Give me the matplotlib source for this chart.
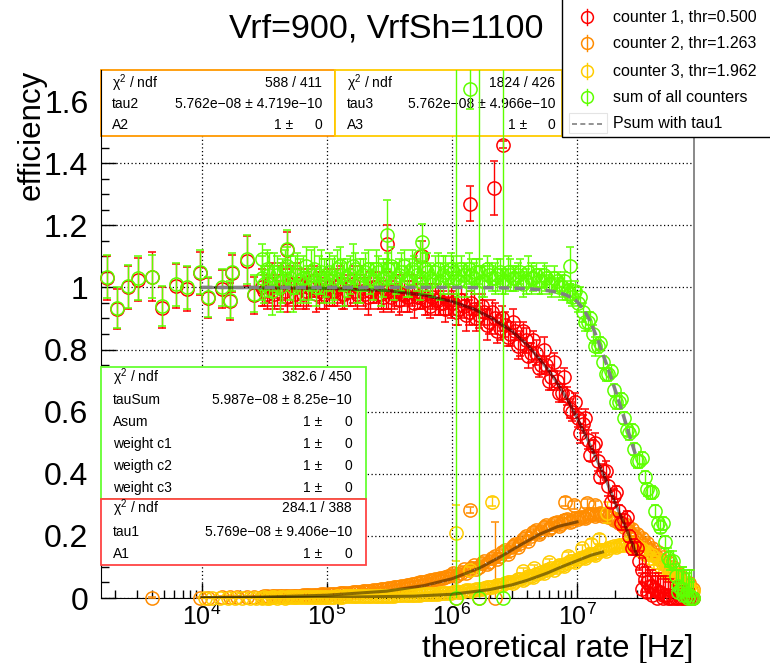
import matplotlib
matplotlib.use("Agg")
import matplotlib.pyplot as plt
from matplotlib.patches import Rectangle
from matplotlib.transforms import Affine2D
from matplotlib.ticker import FixedLocator, LogLocator, MultipleLocator, NullFormatter, FuncFormatter, LogFormatterSciNotation

plt.rcParams["font.family"] = ["Liberation Sans", "DejaVu Sans"]
plt.rcParams["mathtext.fontset"] = "custom"
plt.rcParams["mathtext.rm"] = "Liberation Sans"
plt.rcParams["mathtext.it"] = "Liberation Sans:italic"
plt.rcParams["mathtext.bf"] = "Liberation Sans:bold"

# ----------------------------------
# Data
# ----------------------------------

# rate points [Hz], two interleaved sets
rate = [
    3.0e4, 3.3e4, 3.6e4, 4.0e4, 4.4e4, 4.8e4, 5.3e4, 5.8e4, 6.4e4, 7.1e4, 7.8e4, 8.6e4, 9.4e4,
    1.04e5, 1.14e5, 1.26e5, 1.38e5, 1.52e5, 1.67e5, 1.84e5, 2.02e5, 2.22e5, 2.45e5, 2.69e5, 2.96e5,
    3.26e5, 3.58e5, 3.94e5, 4.33e5, 4.77e5, 5.25e5, 5.77e5, 6.35e5, 6.98e5, 7.68e5, 8.45e5, 9.3e5,
    1.02e6, 1.12e6, 1.24e6, 1.36e6, 1.5e6, 1.65e6, 1.81e6, 1.99e6, 2.19e6, 2.41e6, 2.65e6, 2.92e6,
    3.21e6, 3.53e6, 3.88e6, 4.27e6, 4.7e6, 5.17e6, 5.68e6, 6.25e6, 6.88e6, 7.56e6, 8.32e6, 9.15e6,
    1.01e7, 1.11e7, 1.22e7, 1.34e7, 1.47e7, 1.62e7, 1.78e7, 1.96e7, 2.15e7, 2.37e7, 2.61e7, 2.87e7,
    3.15e7, 3.47e7, 3.82e7, 4.2e7, 4.62e7, 5.08e7, 5.59e7, 6.15e7, 6.76e7, 7.44e7, 8.18e7,
]
rate_b = [
    3.15e4, 3.45e4, 3.8e4, 4.2e4, 4.6e4, 5.05e4, 5.55e4, 6.1e4, 6.75e4, 7.45e4, 8.2e4, 9.0e4, 9.9e4,
    1.09e5, 1.2e5, 1.32e5, 1.45e5, 1.6e5, 1.75e5, 1.93e5, 2.12e5, 2.33e5, 2.57e5, 2.82e5, 3.1e5,
    3.42e5, 3.76e5, 4.13e5, 4.55e5, 5.0e5, 5.5e5, 6.05e5, 6.66e5, 7.32e5, 8.05e5, 8.87e5, 9.74e5,
    1.07e6, 1.18e6, 1.3e6, 1.43e6, 1.57e6, 1.73e6, 1.9e6, 2.09e6, 2.3e6, 2.53e6, 2.78e6, 3.06e6,
    3.37e6, 3.7e6, 4.07e6, 4.48e6, 4.93e6, 5.42e6, 5.96e6, 6.56e6, 7.21e6, 7.93e6, 8.73e6, 9.6e6,
    1.06e7, 1.16e7, 1.28e7, 1.4e7, 1.54e7, 1.7e7, 1.87e7, 2.05e7, 2.26e7, 2.49e7, 2.74e7, 3.01e7,
    3.31e7, 3.64e7, 4.01e7, 4.41e7, 4.85e7, 5.33e7, 5.87e7, 6.45e7, 7.1e7, 7.8e7, 8.5e7,
]

# counter 1
eff_c1 = [
    1.00, 0.98, 1.01, 0.99, 1.02, 0.97, 1.00, 1.01, 0.98, 1.00, 1.02, 0.99, 0.98,
    1.00, 0.99, 1.01, 0.98, 1.00, 0.99, 1.01, 0.98, 0.99, 1.00, 0.98, 0.99,
    0.97, 0.99, 0.98, 0.97, 0.99, 0.97, 0.98, 0.96, 0.97, 0.96, 0.95, 0.96,
    0.95, 0.93, 0.94, 0.92, 0.93, 0.91, 0.92, 0.89, 0.90, 0.87, 0.88, 0.85,
    0.86, 0.82, 0.83, 0.79, 0.79, 0.75, 0.75, 0.71, 0.70, 0.66, 0.65, 0.60,
    0.58, 0.56, 0.51, 0.49, 0.44, 0.41, 0.36, 0.33, 0.28, 0.25, 0.20, 0.17,
    0.12, 0.06, 0.04, 0.03, 0.02, 0.01, 0.00, 0.00, 0.00, 0.00, 0.00,
]
err_c1 = [
    0.06, 0.05, 0.07, 0.05, 0.06, 0.05, 0.06, 0.07, 0.05, 0.06, 0.05, 0.06, 0.05,
    0.06, 0.05, 0.06, 0.05, 0.06, 0.05, 0.06, 0.05, 0.06, 0.05, 0.05, 0.06,
    0.05, 0.05, 0.06, 0.05, 0.05, 0.04, 0.05, 0.05, 0.04, 0.05, 0.04, 0.05,
    0.04, 0.05, 0.04, 0.04, 0.05, 0.04, 0.04, 0.04, 0.05, 0.04, 0.04, 0.04,
    0.03, 0.04, 0.04, 0.03, 0.04, 0.03, 0.03, 0.04, 0.03, 0.03, 0.03, 0.03,
    0.03, 0.03, 0.03, 0.02, 0.03, 0.02, 0.03, 0.02, 0.02, 0.02, 0.02, 0.02,
    0.03, 0.04, 0.05, 0.05, 0.05, 0.06, 0.06, 0.05, 0.04, 0.04, 0.03,
]
eff_c1_b = [
    0.99, 1.01, 0.98, 1.00, 0.99, 1.01, 0.98, 1.00, 0.99, 1.02, 0.98, 1.00, 0.99,
    0.99, 1.00, 0.98, 0.99, 1.01, 0.98, 0.99, 0.97, 1.00, 0.98, 0.97, 0.99,
    0.98, 0.96, 0.98, 0.97, 0.95, 0.97, 0.96, 0.94, 0.96, 0.95, 0.93, 0.95,
    0.92, 0.96, 0.91, 0.95, 0.90, 0.94, 0.88, 0.92, 0.86, 0.90, 0.84, 0.89,
    0.81, 0.86, 0.78, 0.83, 0.74, 0.80, 0.70, 0.76, 0.66, 0.71, 0.61, 0.63,
    0.53, 0.58, 0.46, 0.50, 0.39, 0.41, 0.31, 0.34, 0.24, 0.26, 0.16, 0.16,
    0.09, 0.05, 0.04, 0.02, 0.01, 0.01, 0.00, 0.00, 0.00, 0.00, 0.00,
]
err_c1_b = [
    0.05, 0.06, 0.05, 0.07, 0.05, 0.06, 0.05, 0.06, 0.06, 0.05, 0.06, 0.05, 0.06,
    0.05, 0.06, 0.05, 0.05, 0.06, 0.05, 0.05, 0.06, 0.05, 0.05, 0.05, 0.06,
    0.05, 0.05, 0.04, 0.05, 0.05, 0.04, 0.05, 0.04, 0.05, 0.04, 0.04, 0.05,
    0.04, 0.04, 0.05, 0.04, 0.04, 0.04, 0.05, 0.04, 0.04, 0.04, 0.03, 0.04,
    0.04, 0.03, 0.04, 0.03, 0.03, 0.04, 0.03, 0.03, 0.03, 0.03, 0.03, 0.03,
    0.03, 0.03, 0.02, 0.03, 0.02, 0.03, 0.02, 0.02, 0.02, 0.02, 0.02, 0.02,
    0.04, 0.05, 0.05, 0.06, 0.06, 0.05, 0.05, 0.04, 0.03, 0.03, 0.02,
]

# counter 2
eff_c2 = [
    0.004, 0.005, 0.005, 0.006, 0.006, 0.007, 0.007, 0.008, 0.009, 0.009, 0.010, 0.011, 0.012,
    0.012, 0.013, 0.015, 0.016, 0.017, 0.019, 0.020, 0.022, 0.024, 0.026, 0.028, 0.030,
    0.033, 0.035, 0.038, 0.041, 0.044, 0.047, 0.051, 0.054, 0.058, 0.062, 0.066, 0.070,
    0.080, 0.078, 0.094, 0.090, 0.105, 0.101, 0.118, 0.116, 0.134, 0.134, 0.154, 0.154,
    0.174, 0.176, 0.199, 0.199, 0.219, 0.217, 0.234, 0.230, 0.246, 0.241, 0.255, 0.249,
    0.255, 0.262, 0.266, 0.270, 0.270, 0.265, 0.260, 0.250, 0.240, 0.230, 0.215, 0.200,
    0.185, 0.170, 0.155, 0.140, 0.125, 0.110, 0.090, 0.075, 0.055, 0.040, 0.025,
]
err_c2 = [
    0.003, 0.004, 0.003, 0.004, 0.003, 0.004, 0.003, 0.004, 0.004, 0.003, 0.004, 0.004, 0.004,
    0.004, 0.005, 0.004, 0.005, 0.005, 0.005, 0.006, 0.005, 0.006, 0.006, 0.006, 0.007,
    0.006, 0.007, 0.007, 0.007, 0.008, 0.007, 0.008, 0.008, 0.008, 0.009, 0.009, 0.009,
    0.010, 0.009, 0.010, 0.011, 0.010, 0.011, 0.012, 0.011, 0.012, 0.012, 0.013, 0.012,
    0.013, 0.013, 0.014, 0.013, 0.014, 0.014, 0.015, 0.014, 0.015, 0.015, 0.016, 0.015,
    0.016, 0.015, 0.016, 0.016, 0.017, 0.016, 0.016, 0.015, 0.015, 0.015, 0.014, 0.014,
    0.013, 0.013, 0.012, 0.012, 0.011, 0.011, 0.010, 0.010, 0.009, 0.009, 0.008,
]
eff_c2_b = [
    0.005, 0.004, 0.006, 0.005, 0.007, 0.006, 0.008, 0.007, 0.009, 0.010, 0.010, 0.012, 0.011,
    0.014, 0.013, 0.016, 0.015, 0.018, 0.019, 0.022, 0.021, 0.025, 0.027, 0.029, 0.032,
    0.034, 0.037, 0.040, 0.043, 0.046, 0.050, 0.053, 0.057, 0.061, 0.065, 0.069, 0.074,
    0.070, 0.082, 0.082, 0.097, 0.094, 0.112, 0.108, 0.128, 0.124, 0.147, 0.142, 0.168,
    0.163, 0.190, 0.185, 0.212, 0.205, 0.228, 0.222, 0.240, 0.233, 0.252, 0.246, 0.258,
    0.262, 0.258, 0.272, 0.265, 0.275, 0.268, 0.262, 0.255, 0.245, 0.235, 0.222, 0.207,
    0.192, 0.178, 0.162, 0.147, 0.132, 0.117, 0.100, 0.082, 0.065, 0.048, 0.030,
]
err_c2_b = [
    0.004, 0.003, 0.004, 0.003, 0.004, 0.004, 0.003, 0.004, 0.003, 0.004, 0.004, 0.004, 0.005,
    0.005, 0.004, 0.005, 0.005, 0.006, 0.005, 0.006, 0.006, 0.006, 0.007, 0.006, 0.007,
    0.007, 0.008, 0.007, 0.008, 0.008, 0.008, 0.009, 0.008, 0.009, 0.009, 0.010, 0.009,
    0.010, 0.010, 0.011, 0.010, 0.011, 0.011, 0.012, 0.012, 0.012, 0.013, 0.012, 0.013,
    0.013, 0.014, 0.014, 0.014, 0.015, 0.014, 0.015, 0.015, 0.016, 0.016, 0.015, 0.016,
    0.016, 0.016, 0.017, 0.016, 0.016, 0.016, 0.015, 0.015, 0.015, 0.014, 0.014, 0.013,
    0.013, 0.013, 0.012, 0.012, 0.011, 0.011, 0.010, 0.010, 0.009, 0.009, 0.008,
]

# counter 3
eff_c3 = [
    0.001, 0.001, 0.002, 0.001, 0.002, 0.002, 0.002, 0.003, 0.002, 0.003, 0.003, 0.003, 0.004,
    0.004, 0.004, 0.004, 0.005, 0.005, 0.005, 0.006, 0.006, 0.006, 0.007, 0.007, 0.008,
    0.008, 0.009, 0.009, 0.010, 0.010, 0.011, 0.012, 0.012, 0.013, 0.014, 0.015, 0.016,
    0.018, 0.020, 0.022, 0.025, 0.027, 0.030, 0.033, 0.036, 0.040, 0.043, 0.047, 0.051,
    0.056, 0.061, 0.066, 0.071, 0.077, 0.083, 0.089, 0.095, 0.101, 0.107, 0.113, 0.119,
    0.125, 0.131, 0.137, 0.143, 0.149, 0.155, 0.161, 0.166, 0.170, 0.172, 0.170, 0.163,
    0.153, 0.142, 0.130, 0.117, 0.103, 0.088, 0.073, 0.058, 0.044, 0.030, 0.018,
]
err_c3 = [
    0.002, 0.002, 0.002, 0.002, 0.002, 0.002, 0.002, 0.002, 0.002, 0.002, 0.002, 0.002, 0.002,
    0.002, 0.003, 0.002, 0.003, 0.003, 0.003, 0.003, 0.003, 0.004, 0.003, 0.004, 0.004,
    0.004, 0.004, 0.005, 0.004, 0.005, 0.005, 0.005, 0.005, 0.006, 0.005, 0.006, 0.006,
    0.006, 0.007, 0.006, 0.007, 0.007, 0.007, 0.008, 0.007, 0.008, 0.008, 0.008, 0.009,
    0.008, 0.009, 0.009, 0.010, 0.009, 0.010, 0.010, 0.011, 0.010, 0.011, 0.011, 0.012,
    0.012, 0.012, 0.013, 0.012, 0.013, 0.013, 0.013, 0.012, 0.013, 0.012, 0.012, 0.012,
    0.011, 0.011, 0.011, 0.010, 0.010, 0.010, 0.009, 0.009, 0.008, 0.008, 0.007,
]
eff_c3_b = [
    0.002, 0.001, 0.002, 0.002, 0.001, 0.002, 0.003, 0.002, 0.003, 0.003, 0.004, 0.003, 0.004,
    0.004, 0.005, 0.004, 0.005, 0.006, 0.005, 0.006, 0.007, 0.006, 0.007, 0.008, 0.007,
    0.008, 0.009, 0.010, 0.009, 0.011, 0.011, 0.012, 0.013, 0.013, 0.015, 0.015, 0.017,
    0.021, 0.019, 0.025, 0.024, 0.030, 0.029, 0.036, 0.034, 0.043, 0.041, 0.051, 0.049,
    0.060, 0.058, 0.070, 0.068, 0.081, 0.079, 0.093, 0.091, 0.105, 0.103, 0.118, 0.116,
    0.130, 0.128, 0.142, 0.140, 0.153, 0.152, 0.164, 0.165, 0.172, 0.176, 0.174, 0.168,
    0.159, 0.149, 0.137, 0.124, 0.110, 0.096, 0.081, 0.065, 0.051, 0.037, 0.024,
]
err_c3_b = [
    0.002, 0.002, 0.002, 0.002, 0.002, 0.002, 0.002, 0.002, 0.002, 0.002, 0.002, 0.002, 0.002,
    0.003, 0.002, 0.003, 0.003, 0.003, 0.003, 0.004, 0.003, 0.004, 0.004, 0.004, 0.004,
    0.004, 0.005, 0.004, 0.005, 0.005, 0.005, 0.005, 0.006, 0.005, 0.006, 0.006, 0.006,
    0.007, 0.006, 0.007, 0.007, 0.007, 0.008, 0.007, 0.008, 0.008, 0.008, 0.009, 0.008,
    0.009, 0.009, 0.010, 0.009, 0.010, 0.010, 0.011, 0.010, 0.011, 0.011, 0.012, 0.011,
    0.012, 0.013, 0.012, 0.013, 0.013, 0.013, 0.012, 0.013, 0.012, 0.012, 0.012, 0.011,
    0.011, 0.011, 0.010, 0.010, 0.010, 0.009, 0.009, 0.008, 0.008, 0.007, 0.007,
]

# sum of all counters
eff_sum = [
    1.03, 1.06, 0.99, 1.04, 1.02, 1.07, 1.00, 1.05, 1.03, 1.01, 1.06, 1.04, 1.02,
    1.05, 1.03, 1.07, 1.01, 1.04, 1.06, 1.02, 1.05, 1.03, 1.06, 1.01, 1.04,
    1.07, 1.03, 1.05, 1.02, 1.06, 1.04, 1.03, 1.05, 1.02, 1.06, 1.04, 1.03,
    1.05, 1.02, 1.04, 1.06, 1.03, 1.05, 1.02, 1.04, 1.03, 1.05, 1.02, 1.04,
    1.03, 1.05, 1.02, 1.03, 1.04, 1.02, 1.03, 1.01, 1.02, 1.00, 0.99, 0.97,
    0.95, 0.92, 0.89, 0.85, 0.81, 0.76, 0.72, 0.67, 0.63, 0.58, 0.53, 0.48,
    0.44, 0.39, 0.34, 0.28, 0.23, 0.18, 0.12, 0.07, 0.03, 0.01, 0.00,
]
err_sum = [
    0.07, 0.06, 0.08, 0.06, 0.07, 0.06, 0.08, 0.06, 0.07, 0.06, 0.07, 0.06, 0.07,
    0.06, 0.07, 0.06, 0.07, 0.06, 0.05, 0.07, 0.06, 0.05, 0.06, 0.07, 0.05,
    0.06, 0.05, 0.06, 0.05, 0.06, 0.05, 0.05, 0.06, 0.05, 0.05, 0.06, 0.05,
    0.05, 0.05, 0.04, 0.05, 0.05, 0.04, 0.05, 0.04, 0.05, 0.04, 0.04, 0.05,
    0.04, 0.04, 0.04, 0.05, 0.04, 0.04, 0.04, 0.04, 0.03, 0.04, 0.03, 0.03,
    0.03, 0.03, 0.03, 0.03, 0.02, 0.02, 0.02, 0.02, 0.02, 0.02, 0.02, 0.02,
    0.02, 0.02, 0.02, 0.02, 0.02, 0.02, 0.03, 0.04, 0.06, 0.08, 0.09,
]
eff_sum_b = [
    1.01, 1.04, 1.05, 1.00, 1.06, 1.03, 1.04, 1.02, 1.07, 1.04, 1.00, 1.05, 1.03,
    1.02, 1.06, 1.04, 1.03, 1.07, 1.01, 1.04, 1.06, 1.02, 1.05, 1.03, 1.06,
    1.02, 1.04, 1.07, 1.03, 1.05, 1.02, 1.06, 1.03, 1.05, 1.02, 1.05, 1.06,
    1.03, 1.06, 1.02, 1.04, 1.05, 1.02, 1.06, 1.03, 1.04, 1.02, 1.05, 1.03,
    1.04, 1.01, 1.05, 1.03, 1.02, 1.04, 1.01, 1.03, 1.00, 1.02, 0.98, 0.99,
    0.97, 0.89, 0.90, 0.81, 0.82, 0.72, 0.73, 0.63, 0.64, 0.54, 0.54, 0.44,
    0.45, 0.35, 0.34, 0.24, 0.24, 0.13, 0.12, 0.04, 0.03, 0.01, 0.00,
]
err_sum_b = [
    0.06, 0.07, 0.06, 0.08, 0.06, 0.07, 0.06, 0.07, 0.06, 0.08, 0.06, 0.07, 0.06,
    0.07, 0.06, 0.05, 0.06, 0.07, 0.06, 0.05, 0.06, 0.06, 0.05, 0.06, 0.05,
    0.06, 0.05, 0.05, 0.06, 0.05, 0.06, 0.05, 0.05, 0.05, 0.06, 0.05, 0.05,
    0.05, 0.04, 0.05, 0.05, 0.04, 0.05, 0.04, 0.04, 0.05, 0.04, 0.05, 0.04,
    0.04, 0.04, 0.05, 0.04, 0.04, 0.04, 0.03, 0.04, 0.03, 0.03, 0.03, 0.03,
    0.03, 0.03, 0.02, 0.03, 0.02, 0.02, 0.02, 0.02, 0.02, 0.02, 0.02, 0.02,
    0.02, 0.02, 0.02, 0.02, 0.02, 0.03, 0.03, 0.05, 0.07, 0.08, 0.06,
]

# sparse low-rate points
rate_low = [1.74e3, 2.09e3, 2.56e3, 3.08e3, 3.98e3, 4.79e3, 6.2e3, 7.6e3, 9.6e3, 1.12e4, 1.45e4, 1.67e4, 1.74e4, 2.29e4, 2.6e4]
sum_low = [1.035, 0.935, 1.003, 1.03, 1.035, 0.94, 1.01, 1.0, 1.05, 0.97, 1.0, 0.96, 1.05, 1.09, 0.98]
sum_low_err = [0.07, 0.065, 0.07, 0.07, 0.07, 0.065, 0.07, 0.07, 0.07, 0.065, 0.06, 0.06, 0.06, 0.08, 0.06]
c1_low = [1.03, 0.93, 1.0, 1.025, 1.035, 0.935, 1.005, 0.995, 1.045, 0.965, 0.995, 0.955, 1.045, 1.085, 0.975]
c1_low_err = [0.07, 0.065, 0.07, 0.07, 0.08, 0.065, 0.07, 0.07, 0.07, 0.065, 0.06, 0.06, 0.06, 0.08, 0.06]

rate_c2_low = [3.98e3, 9.6e3, 1.12e4, 1.45e4, 1.67e4, 1.9e4, 2.29e4, 2.6e4]
c2_low = [0.0, 0.001, 0.001, 0.002, 0.002, 0.003, 0.003, 0.004]
c2_low_err = [0.003, 0.003, 0.003, 0.003, 0.003, 0.003, 0.003, 0.003]

rate_c3_low = [1.05e4, 1.2e4, 1.4e4, 1.6e4, 1.85e4, 2.1e4, 2.4e4, 2.7e4]
c3_low = [0.0, 0.0, 0.001, 0.0, 0.001, 0.001, 0.001, 0.001]
c3_low_err = [0.002, 0.002, 0.002, 0.002, 0.002, 0.002, 0.002, 0.002]

# outliers and extra points
rate_c1_x = [4.8e4, 3.0e5, 5.75e5, 1.39e6, 2.17e6, 2.56e6, 3.3e7, 3.65e7, 4.0e7, 4.4e7, 4.85e7, 5.3e7]
c1_x = [1.12, 1.14, 1.10, 1.27, 1.32, 1.46, 0.03, 0.02, 0.01, 0.0, 0.0, 0.0]
c1_x_err = [0.06, 0.06, 0.05, 0.055, 0.088, 0.01, 0.05, 0.06, 0.06, 0.07, 0.06, 0.05]

rate_c2_x = [1.08e6, 1.39e6, 1.64e6, 2.21e6, 8.0e6, 9.5e6, 1.2e7, 1.4e7]
c2_x = [0.0, 0.284, 0.0, 0.0, 0.31, 0.30, 0.305, 0.30]
c2_x_err = [0.01, 0.01, 0.01, 0.245, 0.015, 0.012, 0.015, 0.012]

rate_c3_x = [1.08e6, 1.39e6, 2.1e6, 3.7e6, 4.5e6, 6.0e6, 8.5e6, 1.1e7, 1.3e7, 1.5e7, 1.75e7]
c3_x = [0.21, 0.09, 0.31, 0.088, 0.095, 0.115, 0.135, 0.16, 0.175, 0.19, 0.275]
c3_x_err = [0.09, 0.01, 0.015, 0.01, 0.01, 0.012, 0.012, 0.012, 0.015, 0.015, 0.035]

rate_sum_x = [3.02e4, 4.8e4, 3.0e5, 5.5e5, 5.75e5, 1.39e6, 8.8e6, 1.08e6, 1.64e6, 2.56e6, 6.4e7, 7.0e7, 7.7e7, 8.4e7]
sum_x = [1.09, 1.125, 1.17, 1.10, 1.145, 1.64, 1.07, 0.0, 0.0, 0.0, 0.02, 0.01, 0.0, 0.0]
sum_x_err = [0.05, 0.06, 0.11, 0.05, 0.06, 0.065, 0.06, 3.0, 3.0, 3.0, 0.07, 0.09, 0.08, 0.05]

# fitted curves
fit1_rate = [1e4, 1e5, 3e5, 6e5, 1e6, 1.5e6, 2e6, 3e6, 4e6, 5e6, 6e6, 7e6, 8.5e6, 1e7, 1.25e7, 1.5e7, 1.75e7, 2e7, 2.5e7, 3e7]
fit1_eff = [1.0, 0.997, 0.99, 0.975, 0.955, 0.93, 0.905, 0.86, 0.815, 0.77, 0.73, 0.69, 0.635, 0.58, 0.5, 0.43, 0.37, 0.31, 0.22, 0.14]

fit2_rate = [1e4, 3e4, 1e5, 3e5, 6e5, 1e6, 1.67e6, 2.5e6, 3.5e6, 5e6, 7e6, 1e7]
fit2_eff = [0.001, 0.003, 0.009, 0.022, 0.04, 0.062, 0.097, 0.135, 0.17, 0.205, 0.23, 0.245]

fit3_rate = [1e4, 1e5, 5e5, 1e6, 2e6, 3e6, 4e6, 5.75e6, 7.5e6, 1e7, 1.3e7, 1.6e7]
fit3_eff = [0.0, 0.002, 0.006, 0.012, 0.027, 0.042, 0.057, 0.08, 0.1, 0.12, 0.138, 0.148]

psum_rate = [1e4, 1e5, 1e6, 2e6, 3e6, 4e6, 5e6, 6e6, 7e6, 8e6, 9e6, 1e7, 1.15e7, 1.3e7, 1.5e7, 1.75e7, 2e7, 2.3e7, 2.6e7, 3e7]
psum_eff = [1.0, 1.0, 1.0, 0.999, 0.998, 0.996, 0.993, 0.989, 0.984, 0.977, 0.968, 0.955, 0.925, 0.885, 0.82, 0.745, 0.675, 0.6, 0.53, 0.45]

# legend and fit boxes
legend_labels = ["counter 1, thr=0.500", "counter 2, thr=1.263", "counter 3, thr=1.962", "sum of all counters"]
box_tau2 = [("\u03c7$^{2}$ / ndf", "588 / 411", None), ("tau2", "5.762e\u221208 \u00b1 4.719e\u221210", None), ("A2", "1", "0")]
box_tau3 = [("\u03c7$^{2}$ / ndf", "1824 / 426", None), ("tau3", "5.762e\u221208 \u00b1 4.966e\u221210", None), ("A3", "1", "0")]
box_sum = [("\u03c7$^{2}$ / ndf", "382.6 / 450", None), ("tauSum", "5.987e\u221208 \u00b1 8.25e\u221210", None),
           ("Asum", "1", "0"), ("weight c1", "1", "0"), ("weigth c2", "1", "0"), ("weight c3", "1", "0")]
box_tau1 = [("\u03c7$^{2}$ / ndf", "284.1 / 388", None), ("tau1", "5.769e\u221208 \u00b1 9.406e\u221210", None), ("A1", "1", "0")]

RED = "#ff0000"
ORANGE = "#ff8c00"
YELLOW = "#ffcc00"
GREEN = "#5eff00"

# ----------------------------------
# Figure
# ----------------------------------

W, H = 770, 663
fig = plt.figure(figsize=(W / 100, H / 100), dpi=100)
ax = fig.add_axes([101 / W, 65 / H, 593 / W, 528 / H])

# pixel coords measured from top-left of the canvas
px = Affine2D().scale(1 / W, -1 / H).translate(0, 1) + fig.transFigure


def draw_points(x, y, err, color, z):
    c = ax.errorbar(x, y, yerr=err, fmt="o", mfc="none", mec=color, ecolor=color,
                    ms=9.5, mew=1.1, elinewidth=1.0, capsize=3, capthick=1.0, zorder=z)
    c.lines[0].set_clip_on(False)


draw_points(rate_c2_low + rate + rate_b + rate_c2_x, c2_low + eff_c2 + eff_c2_b + c2_x,
            c2_low_err + err_c2 + err_c2_b + c2_x_err, ORANGE, 3)
draw_points(rate_c3_low + rate + rate_b + rate_c3_x, c3_low + eff_c3 + eff_c3_b + c3_x,
            c3_low_err + err_c3 + err_c3_b + c3_x_err, YELLOW, 4)
draw_points(rate_low + rate + rate_b + rate_c1_x, c1_low + eff_c1 + eff_c1_b + c1_x,
            c1_low_err + err_c1 + err_c1_b + c1_x_err, RED, 5)
draw_points(rate_low + rate + rate_b + rate_sum_x, sum_low + eff_sum + eff_sum_b + sum_x,
            sum_low_err + err_sum + err_sum_b + sum_x_err, GREEN, 6)

ax.plot(fit2_rate, fit2_eff, color="black", alpha=0.45, lw=2.2, zorder=7)
ax.plot(fit3_rate, fit3_eff, color="black", alpha=0.45, lw=2.2, zorder=7)
ax.plot(fit1_rate, fit1_eff, color="black", alpha=0.45, lw=2.2, zorder=7)
ax.plot(psum_rate, psum_eff, color="#808080", lw=2.5, dashes=(3, 1.5), zorder=8)

ax.set_xscale("log")
ax.set_xlim(1556, 8.63e7)
ax.set_ylim(0, 1.7)

ax.xaxis.set_major_locator(FixedLocator([1e4, 1e5, 1e6, 1e7]))
ax.xaxis.set_major_formatter(LogFormatterSciNotation())
ax.xaxis.set_minor_locator(LogLocator(base=10, subs=range(2, 10)))
ax.xaxis.set_minor_formatter(NullFormatter())
ax.yaxis.set_major_locator(MultipleLocator(0.2))
ax.yaxis.set_minor_locator(MultipleLocator(0.05))
ax.yaxis.set_major_formatter(FuncFormatter(lambda v, p: f"{v:g}"))

ax.tick_params(which="both", direction="in", top=False, right=False, width=1)
ax.tick_params(which="major", length=11)
ax.tick_params(which="minor", length=6)
ax.tick_params(axis="y", pad=9, labelsize=23)
ax.tick_params(axis="x", pad=4, labelsize=18)

ax.set_axisbelow(True)
ax.grid(True, which="major", color="black", linestyle=(0, (1, 2)), lw=0.9)

ax.spines["top"].set_visible(False)
ax.spines["right"].set_color("#808080")
ax.spines["right"].set_linewidth(1.3)


# fit result boxes
def stat_box(x0, y0, x1, y1, edge, rows, ys, xl, xr, xpm, z):
    ax.add_patch(Rectangle((x0, y0), x1 - x0, y1 - y0, transform=px, facecolor="white",
                           edgecolor=edge, lw=1.3, clip_on=False, zorder=z))
    for (name, val, err), yy in zip(rows, ys):
        ax.text(xl, yy, name, transform=px, ha="left", va="center", fontsize=10, zorder=z, clip_on=False)
        if err is None:
            ax.text(xr, yy, val, transform=px, ha="right", va="center", fontsize=10, zorder=z, clip_on=False)
        else:
            ax.text(xpm, yy, val + " \u00b1", transform=px, ha="right", va="center", fontsize=10, zorder=z, clip_on=False)
            ax.text(xr, yy, err, transform=px, ha="right", va="center", fontsize=10, zorder=z, clip_on=False)


stat_box(101, 70, 335, 136, "#ff9900", box_tau2, [83, 104, 125], 112, 322, 293, 2)
stat_box(335, 70, 562, 136, YELLOW, box_tau3, [83, 104, 125], 347, 555, 527, 2)
stat_box(101, 367, 366, 499, "#66ff33", box_sum, [377, 400, 422, 444, 466, 488], 113, 352, 322, 10)
stat_box(101, 499, 366, 565, "#ff4444", box_tau1, [508, 532, 554], 113, 352, 322, 10)

# legend
ax.add_patch(Rectangle((562, -2), 212, 139, transform=px, facecolor="white", edgecolor="black",
                       lw=1.0, clip_on=False, zorder=20))
for label, color, yy in zip(legend_labels, [RED, ORANGE, YELLOW, GREEN], [17, 43, 71, 97]):
    ax.plot([587, 587], [yy - 8, yy + 8], transform=px, color=color, lw=1.0, clip_on=False, zorder=21)
    ax.plot([587], [yy], transform=px, marker="o", ms=8.5, mfc="none", mec=color, mew=1.1, clip_on=False, zorder=21)
    ax.text(613, yy, label, transform=px, ha="left", va="center", fontsize=11.5, zorder=21, clip_on=False)
ax.add_patch(Rectangle((569, 113), 38, 20, transform=px, facecolor="white", edgecolor="#e4e4e4",
                       lw=0.8, clip_on=False, zorder=21))
ax.plot([572, 605], [124, 124], transform=px, color="#808080", lw=1.2, dashes=(3, 2), clip_on=False, zorder=22)
ax.text(613, 124, "Psum with tau1", transform=px, ha="left", va="center", fontsize=11.5, zorder=21, clip_on=False)

# titles
fig.text(386 / W, 1 - 37 / H, "Vrf=900, VrfSh=1100", ha="center", va="baseline", fontsize=24.5)
fig.text(693 / W, 1 - 657 / H, "theoretical rate [Hz]", ha="right", va="baseline", fontsize=22.5)
fig.text(32 / W, 1 - 70 / H, "efficiency", rotation=90, ha="center", va="top", fontsize=22.5)

fig.savefig("out.png", dpi=100)
